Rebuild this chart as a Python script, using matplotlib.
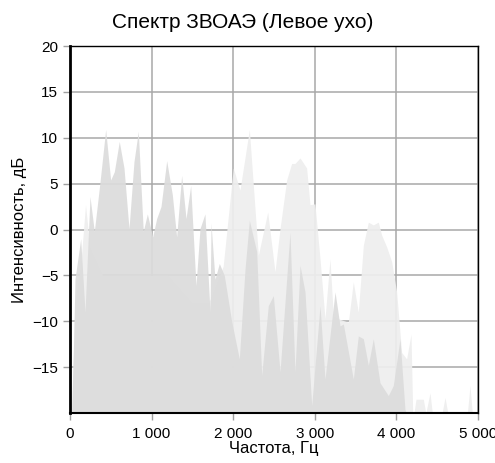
import matplotlib
matplotlib.use("Agg")
import matplotlib.pyplot as plt

plt.rcParams['font.family'] = ['Liberation Sans', 'DejaVu Sans']

title = "Спектр ЗВОАЭ (Левое ухо)"
xlabel = "Частота, Гц"
ylabel = "Интенсивность, дБ"

# Darker series (main response)
freq_a = [20, 45, 61, 131, 184, 245, 298, 368, 437, 498, 543, 604, 662, 723, 784, 837,
          898, 948, 1013, 1062, 1115, 1185, 1254, 1307, 1368, 1422, 1479, 1544, 1593,
          1654, 1716, 1728, 1777, 1830, 1891, 1981, 2075, 2145, 2198, 2288, 2349, 2430,
          2492, 2574, 2696, 2757, 2819, 2880, 2962, 3064, 3125, 3248, 3309, 3350, 3472,
          3533, 3595, 3656, 3717, 3799, 3901, 3962, 4044, 4105, 4120]
level_a = [-20, -12, -5.4, -1.0, -9.0, 3.6, -0.2, 5.2, 10.9, 5.4, 6.3, 9.6, 6.7, 0.1, 7.4, 10.7,
           -0.2, 1.7, -0.8, 1.2, 2.5, 7.5, 3.8, -0.8, 5.9, 1.2, 4.8, -6.1, 0.1,
           1.7, -9.0, 0.7, -5.4, -3.7, -5.0, -10.0, -14.1, -4.3, 1.0, -2.4, -15.9, -8.3,
           -7.2, -15.5, -0.3, -15.5, -3.9, -6.8, -19.2, -8.3, -16.3, -6.8, -10.5, -10.3, -16.3,
           -11.6, -11.9, -14.8, -11.9, -16.7, -18.1, -17.0, -11.9, -19.6, -20]

# Lighter series (background)
freq_b = [20, 60, 130, 190, 245, 400, 800, 1200, 1500, 1700, 1877, 2001,
          2083, 2198, 2308, 2423, 2512, 2574, 2655, 2716, 2757, 2819, 2900, 2941, 3002,
          3064, 3125, 3186, 3227, 3309, 3411, 3472, 3533, 3595, 3656, 3717, 3778, 3819,
          3881, 3942, 4003, 4064, 4125, 4179, 4200, 4215, 4240, 4330, 4360, 4412, 4440,
          4560, 4596, 4630, 4870, 4902, 4930, 5000]
level_b = [-20, -8, -4, 2.7, -2, -5, -5, -5, -8, -8, -4, 6.7,
           4.3, 10.9, -2.8, 1.9, -4.6, 0.1, 5.4, 7.2, 7.2, 7.8, 6.7, 2.7, 2.8,
           -3.2, -9.7, -3.2, -9.4, -9.8, -10.1, -5.7, -9.0, -1.7, 0.8, 0.5, 0.8, -0.6,
           -1.9, -3.5, -6.8, -13.4, -14.1, -11.4, -20, -20, -18.5, -18.5, -20, -17.8, -20,
           -20, -18.3, -20, -20, -17.0, -20, -20]

xticks = [0, 1000, 2000, 3000, 4000, 5000]
xticklabels = ["0", "1 000", "2 000", "3 000", "4 000", "5 000"]
yticks = [-15, -10, -5, 0, 5, 10, 15, 20]

fig = plt.figure(figsize=(4.95, 4.63), dpi=100)
ax = fig.add_axes([70/495, 1-413/463, 408/495, 367/463])

ax.set_xlim(0, 5000)
ax.set_ylim(-20, 20)
ax.grid(True, color='#a8a8a8', linewidth=1.1)
ax.set_axisbelow(True)

ax.fill_between(freq_b, -20, level_b, color='#eeeeee', alpha=0.93, linewidth=0, zorder=2)
ax.fill_between(freq_a, -20, level_a, color='#dcdcdc', alpha=0.93, linewidth=0, zorder=3)

ax.set_xticks(xticks)
ax.set_xticklabels(xticklabels)
ax.set_yticks(yticks)
ax.tick_params(axis='both', labelsize=11, color='#a0a0a0', length=5, width=1)
ax.tick_params(axis='x', pad=5)

for s in ['top', 'right']:
    ax.spines[s].set_color('black')
    ax.spines[s].set_linewidth(1.0)
ax.spines['left'].set_linewidth(2.0)
ax.spines['left'].set_color('black')
ax.spines['bottom'].set_linewidth(1.5)
ax.spines['bottom'].set_color('black')
for s in ax.spines.values():
    s.set_zorder(5)

fig.text(243/495, 1-22/463, title, fontsize=15, ha='center', va='center')
ax.set_xlabel(xlabel, fontsize=12, labelpad=0)
ax.set_ylabel(ylabel, fontsize=12, labelpad=4)

fig.savefig("out.png", dpi=100)
